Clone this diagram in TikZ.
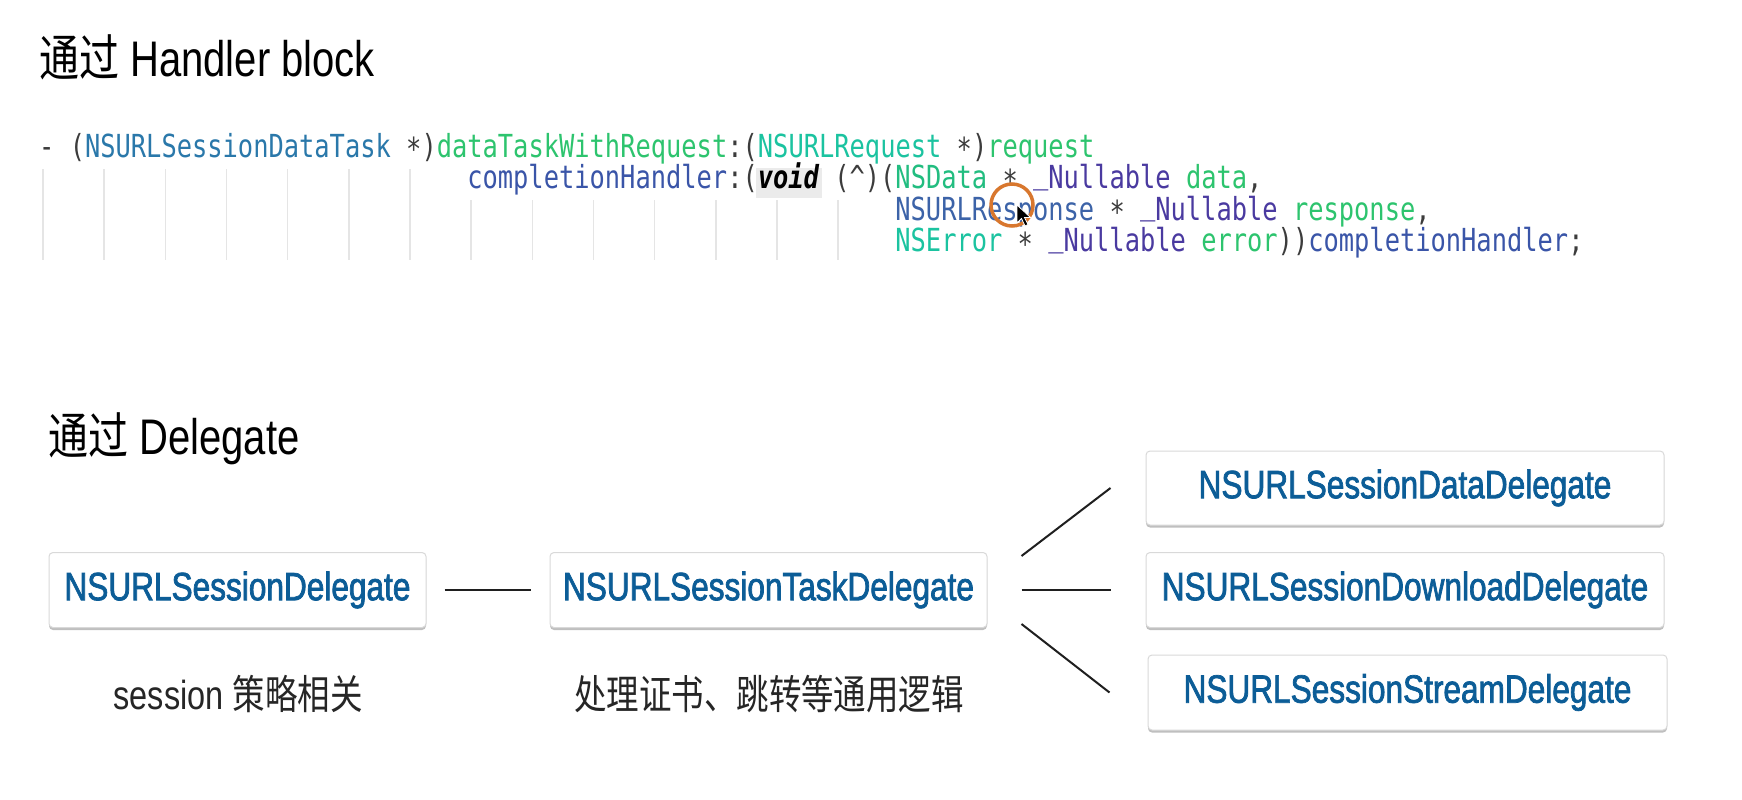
\documentclass[tikz,border=0pt]{standalone}
\usepackage{fontspec}
\usetikzlibrary{shadows,calc}
\newfontfamily\latf{Liberation Sans}[FakeStretch=0.8]
\newfontfamily\boxf{Liberation Sans}[FakeStretch=0.8,FakeBold=1.8]
\newfontfamily\cjk{Noto Sans CJK SC}[FakeStretch=0.8]
\newfontfamily\codef{DejaVu Sans Mono}[FakeStretch=0.8]
\definecolor{cp}{HTML}{3C3C3C}
\definecolor{ccls}{HTML}{2A78AA}
\definecolor{cgr}{HTML}{2DC46E}
\definecolor{cteal}{HTML}{1BC3A0}
\definecolor{cnsd}{HTML}{22BD80}
\definecolor{cresp}{HTML}{3C63A8}
\definecolor{cnull}{HTML}{4A3AA0}
\definecolor{chand}{HTML}{3A55A8}
\definecolor{boxblue}{HTML}{0C5D97}
\definecolor{ringc}{HTML}{D8772E}
\newcommand\cstar{\raisebox{-0.12em}{*}}
\newcommand\cus{\raisebox{0.17em}{\_}}
\newcommand\cc[2]{\textcolor{#1}{#2}}
\tikzset{
  dbox/.style={draw=black!15, line width=1pt, fill=white, rounded corners=4pt,
    minimum height=75pt, inner sep=0pt, text=boxblue,
    font=\boxf\fontsize{39.5}{39.5}\selectfont,
    drop shadow={shadow xshift=0pt, shadow yshift=-2.5pt, opacity=0.25, fill=black}},
  conn/.style={draw=black!88, line width=2pt},
  guide/.style={draw=black!10, line width=1.5pt},
  codeline/.style={anchor=base west, inner sep=0pt, font=\codef\fontsize{31.75}{31.75}\selectfont},
  ttl/.style={anchor=base west, inner sep=0pt, font=\fontsize{50}{50}\selectfont},
  lab/.style={anchor=base, inner sep=0pt, font=\fontsize{40.6}{40.6}\selectfont, text=black!85}
}
\begin{document}
\begin{tikzpicture}[x=1pt,y=-1pt]
\fill[white] (0,0) rectangle (1742,800);
\useasboundingbox (0,0) rectangle (1742,800);

% titles
\node[ttl] (t1) at (39,77) {\cjk 通过\latf\ Handler block};
\node[ttl] (t2) at (48,454) {\cjk 通过\latf\ Delegate};

% indentation guides
\foreach \k in {0,...,6} \draw[guide] (43+61.17*\k,169) -- (43+61.17*\k,260);
\foreach \k in {7,...,13} \draw[guide] (43+61.17*\k,200) -- (43+61.17*\k,260);

% highlight behind void
\fill[black!8] (756,168) rectangle (822,198);

% code
\node[codeline] (c1) at (39,157) {\cc{cp}{-\ (}\cc{ccls}{NSURLSessionDataTask}\cc{cp}{\ \cstar)}\cc{cgr}{dataTaskWithRequest}\cc{cp}{:(}\cc{cteal}{NSURLRequest}\cc{cp}{\ \cstar)}\cc{cgr}{request}};
\node[codeline] (c2) at (467.1,188.5) {\cc{chand}{completionHandler}\cc{cp}{:(}{\bfseries\itshape void}\cc{cp}{\ (\textasciicircum)(}\cc{cnsd}{NSData}\cc{cp}{\ \cstar\ }\cc{cnull}{\cus Nullable}\cc{cp}{\ }\cc{cgr}{data}\cc{cp}{,}};
\node[codeline] (c3) at (895.2,220) {\cc{cresp}{NSURLResponse}\cc{cp}{\ \cstar\ }\cc{cnull}{\cus Nullable}\cc{cp}{\ }\cc{cgr}{response}\cc{cp}{,}};
\node[codeline] (c4) at (895.2,251.5) {\cc{cteal}{NSError}\cc{cp}{\ \cstar\ }\cc{cnull}{\cus Nullable}\cc{cp}{\ }\cc{cgr}{error}\cc{cp}{))}\cc{chand}{completionHandler}\cc{cp}{;}};

% cursor highlight ring and pointer
\draw[ringc, line width=3.5pt] (1012,205) circle (21);
\fill[black, draw=white, line width=0.8pt] (1017,205) -- (1017,223) -- (1021.5,218.5) -- (1025,226) -- (1028,224.5) -- (1024.5,217.5) -- (1030.5,217.5) -- cycle;

% delegate boxes
\node[dbox, minimum width=377pt] (b1) at (237.5,590) {NSURLSessionDelegate};
\node[dbox, minimum width=437pt] (b2) at (768.5,590) {NSURLSessionTaskDelegate};
\node[dbox, minimum width=518pt, minimum height=74pt] (b3) at (1405,488) {NSURLSessionDataDelegate};
\node[dbox, minimum width=518pt] (b4) at (1405,590) {NSURLSessionDownloadDelegate};
\node[dbox, minimum width=519pt] (b5) at (1407.5,692.5) {NSURLSessionStreamDelegate};

% connectors
\draw[conn, shorten <=18pt, shorten >=19pt] (b1.east) -- (b2.west);
\coordinate (f1a) at ($(b2.east)+(34,-34)$);
\coordinate (f1b) at ($(b3.west)+(-35,0)$);
\coordinate (f3a) at ($(b2.east)+(34,34)$);
\coordinate (f3b) at ($(b5.west)+(-38,0)$);
\draw[conn] (f1a) -- (f1b);
\draw[conn, shorten <=34pt, shorten >=35pt] (b2.east) -- (b4.west);
\draw[conn] (f3a) -- (f3b);

% labels
\node[lab] (l1) at (238,709) {\latf session\ \cjk 策略相关};
\node[lab] (l2) at (769,709) {\cjk 处理证书、跳转等通用逻辑};
\end{tikzpicture}
\end{document}
